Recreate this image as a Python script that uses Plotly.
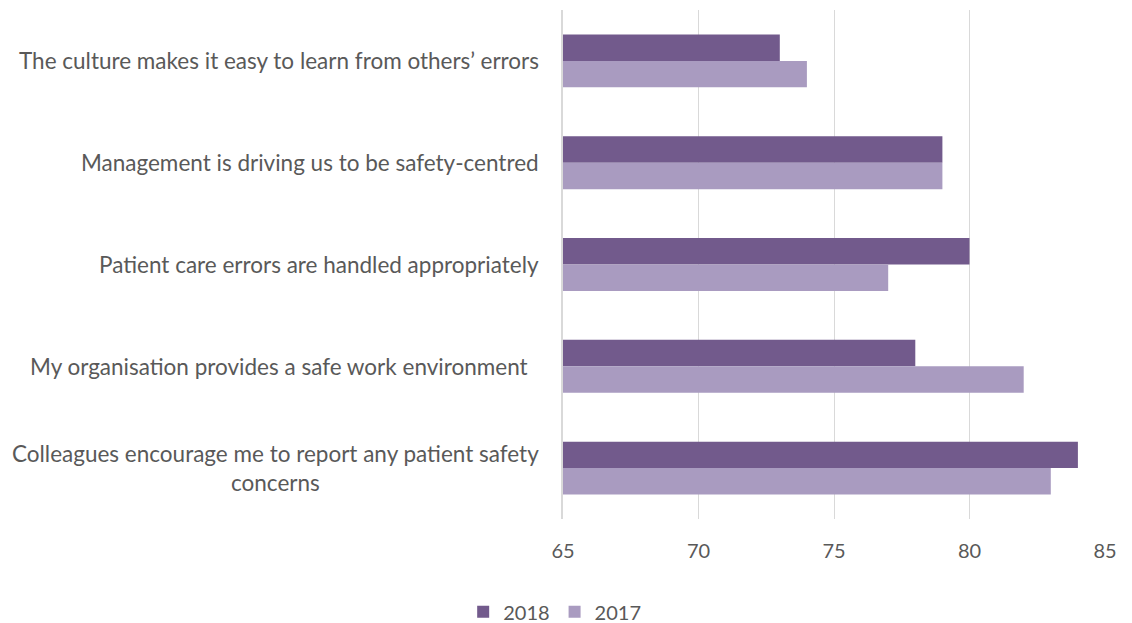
import plotly.graph_objects as go

# Survey statements (top to bottom) and percentage agreement by year
statements = [
    "The culture makes it easy to learn from others\u2019 errors",
    "Management is driving us to be safety-centred",
    "Patient care errors are handled appropriately",
    "My organisation provides a safe work environment\u00a0\u00a0",
    "Colleagues encourage me to report any patient safety<br>concerns",
]
scores_2018 = [73, 79, 80, 78, 84]
scores_2017 = [74, 79, 77, 82, 83]
x_ticks = [65, 70, 75, 80, 85]

FONT = "Lato"
TEXT_COLOR = "#595959"
GRID = "#D9D9D9"

fig = go.Figure()
fig.add_trace(go.Bar(
    name="2018", y=statements, x=scores_2018, orientation="h",
    marker=dict(color="#725A8C", line=dict(width=0)),
))
fig.add_trace(go.Bar(
    name="2017", y=statements, x=scores_2017, orientation="h",
    marker=dict(color="#A99BC0", line=dict(width=0)),
))

# Category labels drawn as annotations so wrapped lines are centred
for s in statements:
    fig.add_annotation(
        x=0, xref="paper", y=s, yref="y", text=s, showarrow=False,
        xanchor="right", xshift=-22, align="center",
        font=dict(family=FONT, size=22.5, color=TEXT_COLOR),
    )

fig.update_layout(
    width=1132, height=623,
    margin=dict(l=563, r=27, t=10, b=104, autoexpand=False),
    paper_bgcolor="white", plot_bgcolor="white",
    barmode="group", bargap=0.48, bargroupgap=0,
    font=dict(family=FONT, size=20, color=TEXT_COLOR),
    showlegend=True,
    legend=dict(
        orientation="h", xref="container", x=0.49, xanchor="center",
        yref="container", y=0.018, yanchor="middle",
        font=dict(family=FONT, size=20, color=TEXT_COLOR),
        itemwidth=30, traceorder="normal",
    ),
    xaxis=dict(
        range=[65, 85], tickvals=x_ticks, showgrid=True,
        gridcolor=GRID, gridwidth=1, zeroline=False, showline=False,
        ticks="", ticklabelstandoff=18,
        tickfont=dict(family=FONT, size=20, color=TEXT_COLOR),
    ),
    yaxis=dict(
        autorange="reversed", showticklabels=False, showgrid=False,
        zeroline=False, showline=True, linecolor=GRID, linewidth=2, ticks="",
    ),
)

fig.write_html("out.html")
